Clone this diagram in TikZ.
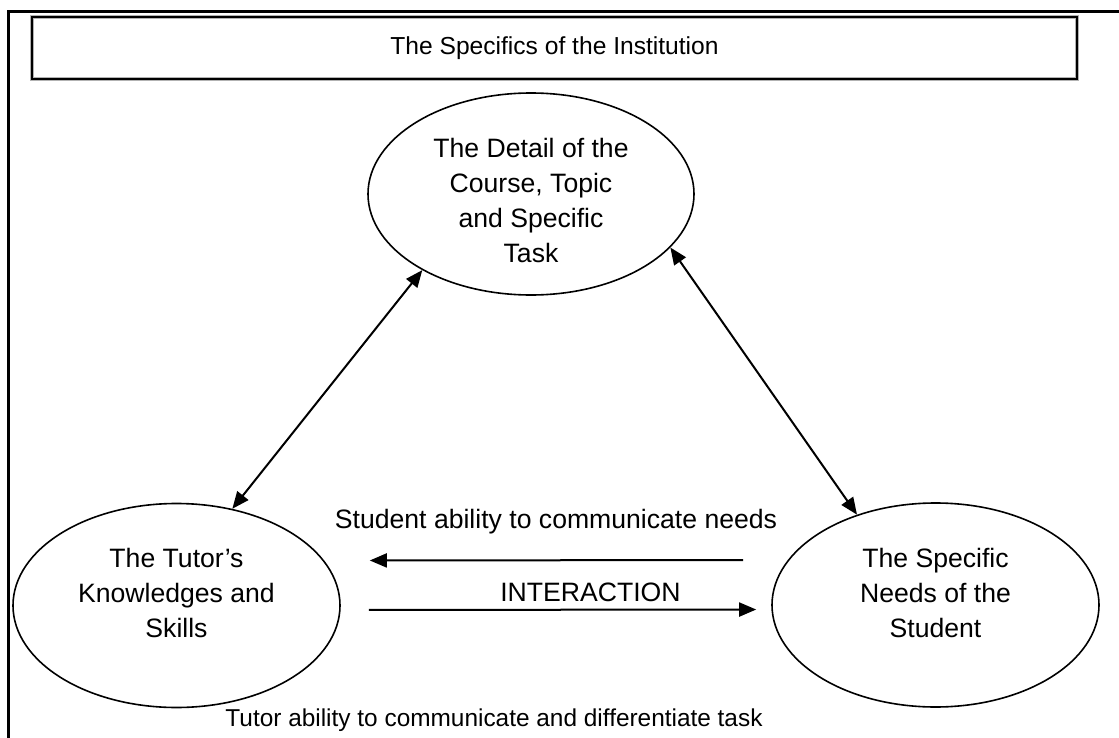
\documentclass[tikz,border=0pt]{standalone}
\usepackage{fontspec}
\setmainfont{Liberation Sans}
\usepackage{tikz}
\usetikzlibrary{arrows.meta,shapes.geometric,positioning}

\begin{document}
\begin{tikzpicture}[x=0.5pt,y=-0.5pt,
  frame/.style={line width=1.5pt},
  inst/.style={rectangle,draw=black,line width=1pt,preaction={draw=gray!60,line width=1.8pt},
               minimum width=522.5pt,minimum height=31pt,font=\fontsize{12.3}{14}\selectfont},
  oval/.style={ellipse,draw,line width=0.8pt,inner sep=0pt,
               minimum width=163.5pt,minimum height=102pt},
  lbl/.style={align=center,font=\fontsize{13.3}{17.5}\selectfont},
  note/.style={font=\fontsize{13.3}{15}\selectfont},
  link/.style={{Triangle[length=8.5pt,width=7pt]}-{Triangle[length=8.5pt,width=7pt]},line width=1pt},
  flow/.style={-{Triangle[length=8.5pt,width=7pt]},line width=1pt}
]
  \useasboundingbox (0,0) rectangle (1119,738);
  \draw[frame] (8,738) -- (8,12) -- (1119,12);

  \node[inst](institution) at (554.5,48) {The Specifics of the Institution};

  \node[oval,minimum width=163pt,minimum height=101pt,
        label={[lbl,yshift=-3pt]center:{The Detail of the\\Course, Topic\\and Specific\\Task}}]
        (detail) at (531,194) {};
  \node[oval,label={[lbl,yshift=6.5pt]center:{The Tutor’s\\Knowledges and\\Skills}}]
        (tutor) at (176.5,605.5) {};
  \node[oval,label={[lbl,yshift=6pt]center:{The Specific\\Needs of the\\Student}}]
        (student) at (935.5,605) {};

  \draw[link](tutor.60)--(detail.215);
  \draw[link](detail.-21)--(student.131);

  \draw[flow,shorten <=14pt,shorten >=14.5pt]([yshift=22.5pt]student.west)--
      node[above=9.5pt,note]{Student ability to communicate needs}([yshift=22.5pt]tutor.east);
  \draw[flow,shorten <=14pt,shorten >=7.5pt]([yshift=-2.25pt]tutor.east)--
      node[above=0pt,note,pos=0.58]{INTERACTION}([yshift=-2.25pt]student.west);

  \node[font=\fontsize{12.2}{14}\selectfont](tutorNote) at (494,720)
      {Tutor ability to communicate and differentiate task};
\end{tikzpicture}
\end{document}
